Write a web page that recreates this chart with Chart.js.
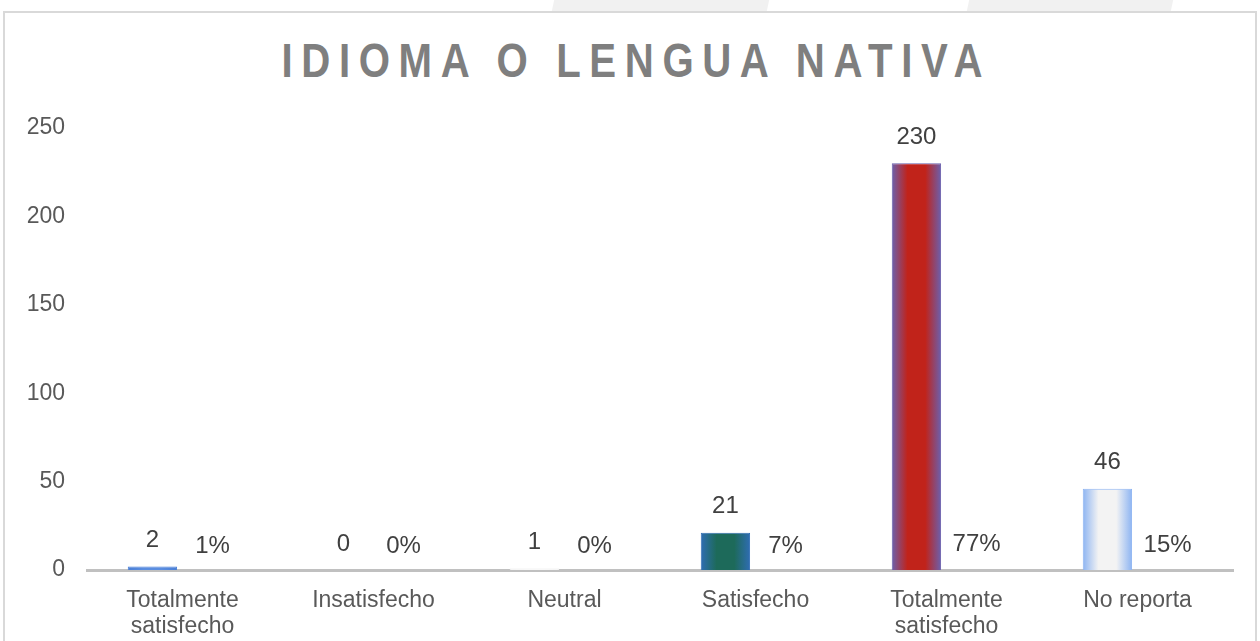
<!DOCTYPE html>
<html lang="es">
<head>
<meta charset="utf-8">
<title>Idioma o lengua nativa</title>
<script src="https://cdn.jsdelivr.net/npm/chart.js@4/dist/chart.umd.min.js"></script>
<style>
  html, body { margin: 0; padding: 0; background: #ffffff; }
  body { width: 1260px; height: 641px; position: relative; overflow: hidden; font-family: "Liberation Sans", Arial, sans-serif; }
  .deco { position: absolute; top: 0; height: 11px; background: #f1f1f1; transform: skewX(-12deg); }
  #frame { position: absolute; left: 3px; top: 11px; width: 1254px; height: 640px; border: 2px solid #d9d9d9; border-bottom: none; box-sizing: border-box; }
  #titulo { position: absolute; left: 0; top: 36px; width: 1260px; text-align: center; font-family: "Liberation Sans", Arial, sans-serif; font-weight: bold; font-size: 49px; line-height: 48px; color: #7f7f7f; letter-spacing: 10.5px; padding-left: 14px; box-sizing: border-box; transform: scaleX(0.82); transform-origin: 633px 0; }
  #grafico { position: absolute; left: 0; top: 0; }
</style>
</head>
<body>
<div class="deco" style="left:553px;width:215px"></div>
<div class="deco" style="left:968px;width:204px"></div>
<div id="frame"></div>
<div id="titulo">IDIOMA O LENGUA NATIVA</div>
<canvas id="grafico" width="1260" height="641"></canvas>
<script>
// Datos
const categorias = [['Totalmente', 'satisfecho'], 'Insatisfecho', 'Neutral', 'Satisfecho', ['Totalmente', 'satisfecho'], 'No reporta'];
const cantidades = [2, 0, 1, 21, 230, 46];
const porcentajes = [0.01, 0, 0, 0.07, 0.77, 0.15];
const ticksEje = [0, 50, 100, 150, 200, 250];

// Colores de borde y centro de cada barra (degradado)
const colorBorde = ['#4a7fd6', '#4a7fd6', '#f4f4f4', '#2f6db3', '#6b60ad', '#8db4f2'];
const colorCentro = ['#5a8de0', '#5a8de0', '#f8f8f8', '#1d6a5a', '#c1231a', '#f3f3f3'];

const colorTexto = '#404040';
const fuente = '"Liberation Sans", Arial, sans-serif';

// Degradado horizontal: borde -> centro -> borde
function rellenoBarra(context) {
    const i = context.dataIndex;
    const meta = context.chart.getDatasetMeta(context.datasetIndex);
    const el = meta.data[i];
    if (!el || !isFinite(el.x) || !el.width) return colorCentro[i];
    const ctx = context.chart.ctx;
    const g = ctx.createLinearGradient(el.x - el.width / 2, 0, el.x + el.width / 2, 0);
    g.addColorStop(0, colorBorde[i]);
    g.addColorStop(0.32, colorCentro[i]);
    g.addColorStop(0.68, colorCentro[i]);
    g.addColorStop(1, colorBorde[i]);
    return g;
}

// Etiquetas de valores sobre las barras
const etiquetas = {
    id: 'etiquetas',
    afterDatasetsDraw(chart) {
        const ctx = chart.ctx;
        ctx.save();
        ctx.font = '24px ' + fuente;
        ctx.fillStyle = colorTexto;
        ctx.textAlign = 'center';
        ctx.textBaseline = 'middle';
        chart.getDatasetMeta(0).data.forEach((bar, i) => {
            ctx.fillText(String(cantidades[i]), bar.x, bar.y - 26);
        });
        chart.getDatasetMeta(1).data.forEach((bar, i) => {
            ctx.fillText(Math.round(porcentajes[i] * 100) + '%', bar.x, bar.y - 24);
        });
        ctx.restore();
    }
};

const grafico = new Chart(document.getElementById('grafico').getContext('2d'), {
    type: 'bar',
    data: {
        labels: categorias,
        datasets: [
            {
                label: 'Cantidad',
                data: cantidades,
                backgroundColor: rellenoBarra,
                borderColor: colorBorde,
                borderWidth: 1,
                categoryPercentage: 0.63,
                barPercentage: 0.82
            },
            {
                label: 'Porcentaje',
                data: porcentajes,
                backgroundColor: 'rgba(0,0,0,0)',
                borderWidth: 0,
                categoryPercentage: 0.63,
                barPercentage: 0.82
            }
        ]
    },
    options: {
        responsive: false,
        animation: false,
        events: [],
        layout: {
            padding: { left: 0, right: 27, top: 128, bottom: 0 }
        },
        plugins: {
            legend: { display: false },
            tooltip: { enabled: false },
            title: { display: false }
        },
        scales: {
            x: {
                grid: { display: false },
                border: { display: true, color: '#c0c0c0', width: 3 },
                ticks: {
                    color: '#595959',
                    font: { family: fuente, size: 23, lineHeight: 1.13 },
                    padding: 10,
                    maxRotation: 0,
                    autoSkip: false
                },
                afterFit(scale) { scale.height = 71; }
            },
            y: {
                min: 0,
                max: 250,
                afterBuildTicks(scale) { scale.ticks = ticksEje.map(v => ({ value: v })); },
                grid: { display: false },
                border: { display: false },
                ticks: {
                    color: '#595959',
                    font: { family: fuente, size: 23 },
                    padding: 14
                },
                afterFit(scale) { scale.width = 87; }
            }
        }
    },
    plugins: [etiquetas]
});

// segunda pasada para que los degradados usen la posición real de cada barra
grafico.update('none');
</script>
</body>
</html>
